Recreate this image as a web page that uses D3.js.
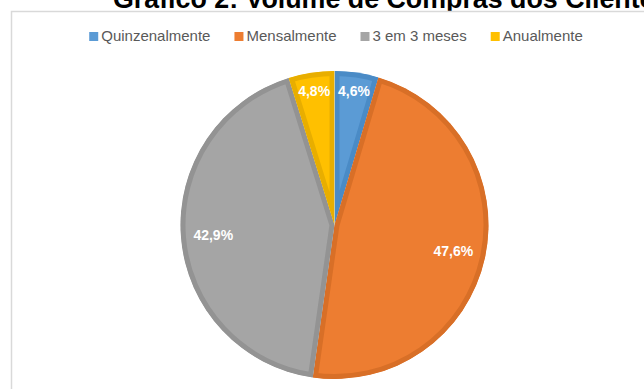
<!DOCTYPE html>
<html>
<head>
<meta charset="utf-8">
<script src="https://cdn.jsdelivr.net/npm/d3@7"></script>
<style>
  html, body { margin: 0; padding: 0; background: #fff; }
  svg { display: block; }
</style>
</head>
<body>
<svg id="chart" width="644" height="389"></svg>
<script>
// Frequência de compras dos clientes (%)
const categories = ["Quinzenalmente", "Mensalmente", "3 em 3 meses", "Anualmente"];
const values = [4.6, 47.6, 42.9, 4.8];
const labels = ["4,6%", "47,6%", "42,9%", "4,8%"];
const fillColors = ["#5b9bd5", "#ed7d31", "#a5a5a5", "#ffc000"];
const edgeColors = ["#4a8bc6", "#d86f27", "#939393", "#e8ae00"];
const titleText = "Gráfico 2: Volume de Compras dos Clientes";

const svg = d3.select("#chart");

// Title sits above the chart frame; the frame's white fill hides its lower part
svg.append("text")
  .attr("x", 113).attr("y", 7.5)
  .attr("font-family", "Liberation Sans, Arial, sans-serif")
  .attr("font-weight", "bold")
  .attr("font-size", 26.8)
  .attr("fill", "#000")
  .text(titleText);

svg.append("rect")
  .attr("x", 11.5).attr("y", 11.5)
  .attr("width", 700).attr("height", 400)
  .attr("fill", "#fff")
  .attr("stroke", "#d9d9d9")
  .attr("stroke-width", 1.5);

// Legend
const legend = svg.append("g").attr("class", "legend");
const legendFont = 15;
const sw = 9, gapText = 3, gapItem = 24;
let lx = 0;
categories.forEach((c, i) => {
  const g = legend.append("g");
  g.append("rect").attr("x", 0).attr("y", -9).attr("width", sw).attr("height", sw)
    .attr("fill", fillColors[i]);
  const t = g.append("text").attr("x", sw + gapText).attr("y", 0)
    .attr("font-family", "Liberation Sans, Arial, sans-serif")
    .attr("font-size", legendFont)
    .attr("fill", "#595959")
    .text(c);
  const w = sw + gapText + t.node().getComputedTextLength();
  g.attr("transform", `translate(${lx},0)`);
  lx += w + gapItem;
});
const legendWidth = lx - gapItem;
legend.attr("transform", `translate(${336 - legendWidth / 2},41)`);

// Pie
const cx = 334.5, cy = 225, r = 154;
const pie = d3.pie().sort(null).value(d => d)(values);
const arc = d3.arc().innerRadius(0).outerRadius(r);
const g = svg.append("g").attr("transform", `translate(${cx},${cy})`);
const defs = svg.append("defs");

pie.forEach((d, i) => {
  const id = "slice-clip-" + i;
  defs.append("clipPath").attr("id", id).append("path").attr("d", arc(d));
  g.append("path")
    .attr("d", arc(d))
    .attr("fill", fillColors[i])
    .attr("stroke", edgeColors[i])
    .attr("stroke-width", 10)
    .attr("stroke-linejoin", "miter")
    .attr("clip-path", `url(#${id})`);
});

// Data labels inside the slices
pie.forEach((d, i) => {
  const share = values[i] / d3.sum(values);
  const lr = share < 0.1 ? r * 0.88 : r * 0.79;
  const c = d3.arc().innerRadius(lr).outerRadius(lr).centroid(d);
  g.append("text")
    .attr("x", c[0]).attr("y", c[1])
    .attr("text-anchor", "middle")
    .attr("dominant-baseline", "central")
    .attr("font-family", "Liberation Sans, Arial, sans-serif")
    .attr("font-weight", "bold")
    .attr("font-size", 14)
    .attr("fill", "#fff")
    .text(labels[i]);
});
</script>
</body>
</html>
